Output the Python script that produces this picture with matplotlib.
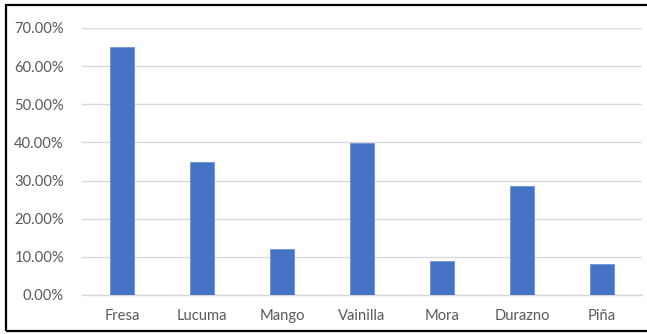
import matplotlib
matplotlib.use('Agg')
import matplotlib.pyplot as plt
from matplotlib.patches import Rectangle
from matplotlib.ticker import FuncFormatter, MultipleLocator

# data
sabores = ['Fresa', 'Lucuma', 'Mango', 'Vainilla', 'Mora', 'Durazno', 'Piña']
porcentajes = [0.650, 0.348, 0.120, 0.398, 0.088, 0.285, 0.080]

W, H = 647, 334
plt.rcParams['font.family'] = ['Lato', 'DejaVu Sans']

fig = plt.figure(figsize=(W / 100, H / 100), dpi=100)
ax = fig.add_axes([82 / W, (H - 295) / H, (642 - 82) / W, (295 - 28) / H])

ax.bar(range(len(sabores)), porcentajes, width=0.31, color='#4472C4',
       edgecolor='#6d93d6', linewidth=0.6, zorder=3)

ax.set_xlim(-0.5, len(sabores) - 0.5)
ax.set_ylim(0, 0.70)
ax.yaxis.set_major_locator(MultipleLocator(0.10))
ax.yaxis.set_major_formatter(FuncFormatter(lambda v, p: '%.2f%%' % (v * 100)))
ax.set_xticks(range(len(sabores)))
ax.set_xticklabels(sabores)

ax.grid(axis='y', color='#d9d9d9', linewidth=1.0, zorder=0)
for s in ['top', 'right', 'left']:
    ax.spines[s].set_visible(False)
ax.spines['bottom'].set_color('#d9d9d9')
ax.spines['bottom'].set_linewidth(1.0)
ax.tick_params(axis='both', length=0, colors='#595959', labelsize=10.6)
ax.tick_params(axis='y', pad=13)
ax.tick_params(axis='x', pad=10)

# black frame round the chart (right side falls outside the image)
fig.patches.append(Rectangle((5.5 / W, 3 / H), 1.2, (329.5 - 3) / H,
                             transform=fig.transFigure, fill=False,
                             edgecolor='black', linewidth=1.6))

fig.savefig('out.png', dpi=100)
